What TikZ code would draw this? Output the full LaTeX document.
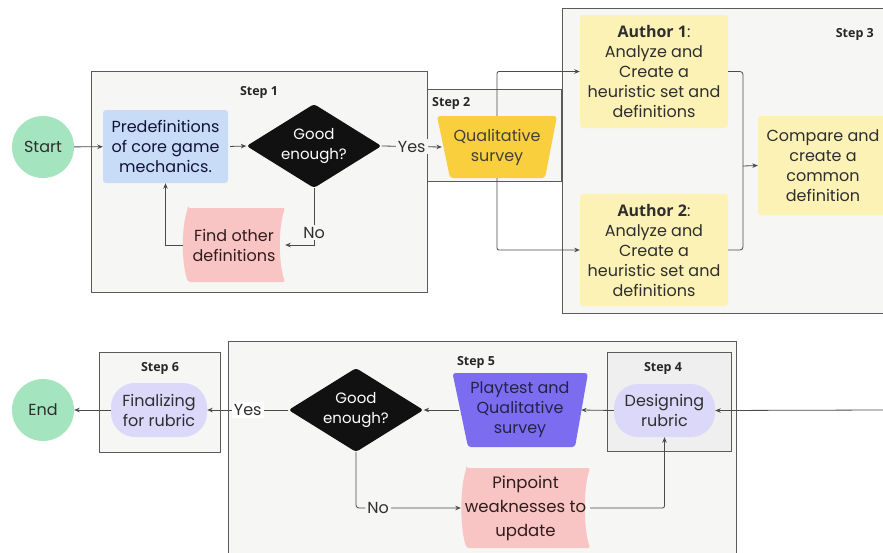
\documentclass[tikz,border=0pt]{standalone}
\usepackage{fontspec}
\setmainfont{Poppins}
\newfontfamily\stepfont{Open Sans}
\usetikzlibrary{shapes.geometric,arrows.meta,calc}
\definecolor{boxbg}{HTML}{F6F6F5}
\definecolor{boxbgb}{HTML}{EFEFEF}
\definecolor{boxline}{HTML}{5A5A5A}
\definecolor{linec}{HTML}{4A4A4A}
\definecolor{textc}{HTML}{2E2E2E}
\definecolor{greenc}{HTML}{A4E5C0}
\definecolor{bluec}{HTML}{C8DCF8}
\definecolor{pinkc}{HTML}{F9C4C4}
\definecolor{yellowc}{HTML}{F9CF3E}
\definecolor{lyellowc}{HTML}{FCF2B6}
\definecolor{lavc}{HTML}{DBD8FA}
\definecolor{purplec}{HTML}{7C6DF0}
\definecolor{diac}{HTML}{111111}
\begin{document}
\begin{tikzpicture}[x=1pt,y=-1pt,
  stepbox/.style={draw=boxline, fill=boxbg, line width=0.9pt, inner sep=0pt},
  steplabel/.style={font=\stepfont\bfseries\fontsize{12.5}{14}\selectfont, text=black!85, inner sep=0pt},
  txt/.style={font=\fontsize{16}{20}\selectfont, align=center, text=textc, inner sep=0pt},
  circ/.style={txt, circle, fill=greenc, minimum size=62pt},
  diam/.style={txt, font=\fontsize{15}{20}\selectfont, diamond, fill=diac, text=white, minimum width=135pt, minimum height=84pt, aspect=1.6, rounded corners=3pt},
  pill/.style={txt, fill=lavc, rounded corners=24pt},
  rbox/.style={txt, rounded corners=3pt},
  arr/.style={-{Stealth[length=5.5pt,width=4.5pt]}, draw=linec, line width=0.8pt},
  ln/.style={draw=linec, line width=0.8pt},
  lbl/.style={txt, inner sep=2pt}
]
\useasboundingbox (0,0) rectangle (883,552);
\fill[white] (0,0) rectangle (883,552);

% ---------- step boxes ----------
\node[stepbox, minimum width=336pt, minimum height=221pt] (s1) at (259,181.5) {};
\node[steplabel] at (259,92) {Step 1};
\node[stepbox, minimum width=134pt, minimum height=92pt] (s2) at (494,135) {};
\node[steplabel, anchor=west] at (432,103) {Step 2};
\path[fill=boxbg] (883,8) -- (562,8) -- (562,313) -- (883,313) -- cycle;
\draw[draw=boxline, line width=0.9pt] (883,8) -- (562,8) -- (562,313) -- (883,313);
\node[steplabel, anchor=east] at (874,34) {Step 3};

\node[stepbox, minimum width=121pt, minimum height=100pt] (s6) at (159.5,402) {};
\node[steplabel] at (160,368) {Step 6};
\path[fill=boxbg] (228,560) -- (228,341) -- (736,341) -- (736,560) -- cycle;
\draw[draw=boxline, line width=0.9pt] (228,560) -- (228,341) -- (736,341) -- (736,560);
\node[steplabel] at (476,362) {Step 5};
\node[stepbox, fill=boxbgb, minimum width=124pt, minimum height=99pt] (s4) at (669,401.5) {};
\node[steplabel] at (663,368) {Step 4};

% ---------- top row nodes ----------
\node[circ] (start) at (43,147) {Start};
\node[rbox, fill=bluec, minimum width=125pt, minimum height=73pt, text=black!75!blue!60!textc] (predef) at (165.5,146.5) {Predefinitions\\of core game\\mechanics.};
\node[diam] (dia1) at (314,146) {Good\\enough?};

% Find other definitions (stored data shape)
\node[txt, minimum width=102pt, minimum height=74pt] (find) at (234,245) {};
\begin{scope}[shift={(find.center)}]
  \fill[pinkc, rounded corners=2pt] (-46,-37) -- (51,-37) .. controls (44.3,-18) and (44.3,18) .. (51,37) -- (-46,37) .. controls (-52.7,18) and (-52.7,-18) .. cycle;
\end{scope}
\node[txt, text=black!80!red!40!textc] at (find) {Find other\\definitions};

% Qualitative survey trapezoid
\node[txt, minimum width=110pt, minimum height=62pt] (qual) at (497,147) {};
\begin{scope}[shift={(qual.center)}]
  \fill[yellowc, rounded corners=3pt] (-60,-31) -- (60,-31) -- (48,31) -- (-47,31) -- cycle;
\end{scope}
\node[txt, text=black!85!yellow] at (qual) {Qualitative\\survey};

\node[rbox, fill=lyellowc, minimum width=148pt, minimum height=113pt] (a1) at (654,71.5) {{\stepfont\bfseries Author 1}:\\Analyze and\\Create a\\heuristic set and\\definitions};
\node[rbox, fill=lyellowc, minimum width=148pt, minimum height=112pt] (a2) at (654,250) {{\stepfont\bfseries Author 2}:\\Analyze and\\Create a\\heuristic set and\\definitions};
\node[rbox, fill=lyellowc, minimum width=130pt, minimum height=99pt] (cmp) at (823,165.5) {Compare and\\create a\\common\\definition};

% ---------- bottom row nodes ----------
\node[circ] (end) at (43,410) {End};
\node[pill, minimum width=96pt, minimum height=54pt] (fin) at (159,410) {Finalizing\\for rubric};
\node[diam] (dia2) at (356,410) {Good\\enough?};

\node[txt, minimum width=122pt, minimum height=74pt] (play) at (520,410) {};
\begin{scope}[shift={(play.center)}]
  \fill[purplec, rounded corners=3pt] (-67.5,-37) -- (68,-37) -- (55,37) -- (-52,37) -- cycle;
\end{scope}
\node[txt, text=black!70!purplec] at (play) {Playtest and\\Qualitative\\survey};

\node[pill, minimum width=101pt, minimum height=53pt] (des) at (664.5,410.5) {Designing\\rubric};

\node[txt, minimum width=129pt, minimum height=80pt] (pin) at (525.5,508) {};
\begin{scope}[shift={(pin.center)}]
  \fill[pinkc, rounded corners=2pt] (-59,-40) -- (64.5,-40) .. controls (57.8,-20) and (57.8,20) .. (64.5,40) -- (-59,40) .. controls (-65.7,20) and (-65.7,-20) .. cycle;
\end{scope}
\node[txt, text=black!80!red!40!textc, font=\fontsize{16.5}{24}\selectfont] at (pin) {Pinpoint\\weaknesses to\\update};

% ---------- connectors top ----------
\draw[arr] (start) -- (predef);
\draw[arr, shorten <=2pt] (predef.east) -- (dia1.west);
\draw[arr] (dia1.east) -- node[lbl, fill=boxbg, pos=0.5] {Yes} (qual.west);
\draw[arr] (dia1.south) |- node[lbl, fill=boxbg, pos=0.39] {No} (find.east);
\draw[arr] (find.west) -| (predef.south);
\draw[arr, rounded corners=2pt] (qual.north) |- (a1.west);
\draw[arr, rounded corners=2pt] (qual.south) |- (a2.west);
\coordinate (m) at (743,166);
\draw[ln, rounded corners=3pt] (a1.east) -| (m);
\draw[ln, rounded corners=3pt] (a2.east) -| (m);
\draw[arr] (m) -- (cmp.west);

% ---------- connectors bottom ----------
\coordinate (rin) at (883,410);
\draw[arr] (rin) -- (des.east);
\draw[arr] (des.west) -- (play.east);
\draw[arr] (play.west) -- (dia2.east);
\draw[arr] (dia2.west) -- node[lbl, fill=white, pos=0.5] {Yes} (fin.east);
\draw[arr] (fin.west) -- (end.east);
\draw[arr, rounded corners=3pt] (dia2.south) |- node[lbl, fill=boxbg, pos=0.605] {No} (pin.west);
\draw[arr, rounded corners=2pt] (pin.east) -| (des.south);
\end{tikzpicture}
\end{document}
